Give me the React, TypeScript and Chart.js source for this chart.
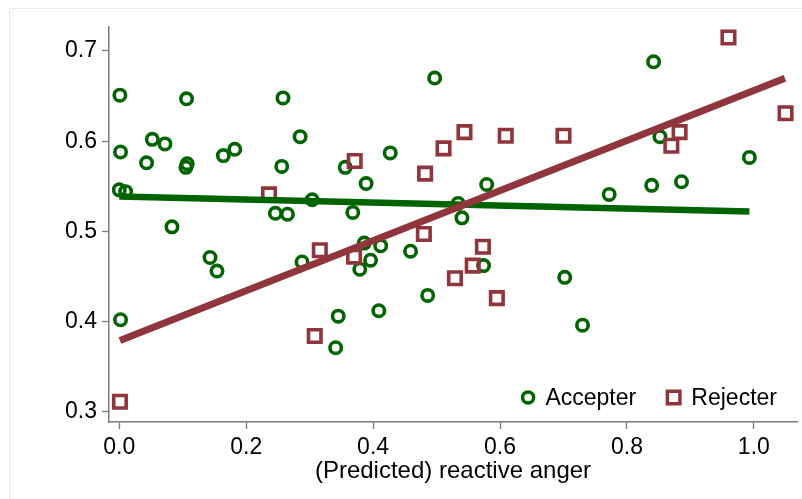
import React, { useEffect, useRef } from "react";
import { Chart, registerables } from "chart.js";

Chart.register(...registerables);

// Accepter (green hollow circles)
const accepterX = [
  0.001, 0.002, 0.0, 0.010, 0.002, 0.043, 0.052, 0.072, 0.083, 0.106,
  0.107, 0.105, 0.143, 0.154, 0.164, 0.182, 0.246, 0.256, 0.258, 0.265,
  0.285, 0.288, 0.304, 0.345, 0.341, 0.356, 0.368, 0.379, 0.386, 0.389,
  0.396, 0.412, 0.409, 0.427, 0.459, 0.486, 0.497, 0.534, 0.540, 0.574,
  0.579, 0.702, 0.730, 0.772, 0.839, 0.842, 0.852, 0.886, 0.993,
];
const accepterY = [
  0.651, 0.588, 0.546, 0.544, 0.402, 0.576, 0.602, 0.597, 0.505, 0.647,
  0.575, 0.571, 0.471, 0.456, 0.584, 0.591, 0.520, 0.572, 0.648, 0.519,
  0.605, 0.466, 0.535, 0.406, 0.371, 0.571, 0.521, 0.458, 0.487, 0.553,
  0.468, 0.484, 0.412, 0.587, 0.478, 0.429, 0.670, 0.531, 0.515, 0.462,
  0.552, 0.449, 0.396, 0.541, 0.551, 0.688, 0.605, 0.555, 0.582,
];

// Rejecter (red hollow squares)
const rejecterX = [
  0.001, 0.236, 0.308, 0.316, 0.370, 0.371, 0.480, 0.482, 0.511, 0.529,
  0.544, 0.557, 0.573, 0.595, 0.609, 0.700, 0.870, 0.883, 0.960, 1.050,
];
const rejecterY = [
  0.311, 0.541, 0.384, 0.479, 0.472, 0.578, 0.497, 0.564, 0.592, 0.448,
  0.610, 0.462, 0.483, 0.426, 0.606, 0.606, 0.595, 0.610, 0.715, 0.631,
];

// Linear fits (endpoints)
const accepterFitX = [0.0, 0.993];
const accepterFitY = [0.5387, 0.522];
const rejecterFitX = [0.001, 1.049];
const rejecterFitY = [0.379, 0.6697];

const xTicks = [0.0, 0.2, 0.4, 0.6, 0.8, 1.0];
const yTicks = [0.3, 0.4, 0.5, 0.6, 0.7];

const seriesLabels = ["Accepter", "Rejecter"];
const xTitle = "(Predicted) reactive anger";

const GREEN = "rgb(0,100,0)";
const RED = "rgb(144,53,59)";
const AXIS = "#7a7a7a";
const FONT = "'Liberation Sans', Arial, sans-serif";

const zip = (xs: number[], ys: number[]) => xs.map((x, i) => ({ x, y: ys[i] }));

export default function App() {
  const ref = useRef<HTMLCanvasElement | null>(null);

  useEffect(() => {
    document.body.style.margin = "0";
    const canvas = ref.current;
    if (!canvas) return;

    const framePlugin = {
      id: "frame",
      beforeDraw(chart: any) {
        const ctx = chart.ctx;
        ctx.save();
        ctx.fillStyle = "#ffffff";
        ctx.fillRect(0, 0, chart.width, chart.height);
        ctx.strokeStyle = "#e8ecee";
        ctx.lineWidth = 1;
        ctx.strokeRect(9.5, 8.5, chart.width + 10, chart.height + 10);
        ctx.restore();
      },
    };

    const legendPlugin = {
      id: "innerLegend",
      afterDraw(chart: any) {
        const ctx = chart.ctx;
        const area = chart.chartArea;
        ctx.save();
        ctx.font = `23px ${FONT}`;
        ctx.textBaseline = "middle";
        ctx.textAlign = "left";
        const cy = area.bottom - 24.5;
        const w1 = ctx.measureText(seriesLabels[0]).width;
        const w2 = ctx.measureText(seriesLabels[1]).width;
        const t2 = area.right - 20 - w2;
        const m2 = t2 - 17.7;
        const t1 = m2 - 37.5 - w1;
        const m1 = t1 - 17.3;
        ctx.strokeStyle = GREEN;
        ctx.lineWidth = 3.5;
        ctx.beginPath();
        ctx.arc(m1, cy, 5.5, 0, Math.PI * 2);
        ctx.stroke();
        ctx.strokeStyle = RED;
        ctx.strokeRect(m2 - 6.25, cy - 6.25, 12.5, 12.5);
        ctx.fillStyle = "#000";
        ctx.fillText(seriesLabels[0], t1, cy + 1);
        ctx.fillText(seriesLabels[1], t2, cy + 1);
        ctx.restore();
      },
    };

    const chart = new Chart(canvas, {
      type: "scatter",
      data: {
        datasets: [
          {
            label: "Rejecter fit",
            data: zip(rejecterFitX, rejecterFitY),
            showLine: true,
            borderColor: RED,
            borderWidth: 7,
            borderCapStyle: "butt",
            pointRadius: 0,
            order: 0,
          },
          {
            label: "Accepter fit",
            data: zip(accepterFitX, accepterFitY),
            showLine: true,
            borderColor: GREEN,
            borderWidth: 6.5,
            borderCapStyle: "butt",
            pointRadius: 0,
            order: 1,
          },
          {
            label: seriesLabels[1],
            data: zip(rejecterX, rejecterY),
            pointStyle: "rect",
            pointRadius: 8.84,
            borderWidth: 3.6,
            borderColor: RED,
            backgroundColor: "transparent",
            order: 2,
          },
          {
            label: seriesLabels[0],
            data: zip(accepterX, accepterY),
            pointStyle: "circle",
            pointRadius: 5.7,
            borderWidth: 3.6,
            borderColor: GREEN,
            backgroundColor: "transparent",
            order: 3,
          },
        ],
      },
      options: {
        responsive: false,
        animation: false,
        events: [],
        layout: { autoPadding: false, padding: { top: 27, right: 5, left: 0, bottom: 0 } },
        plugins: {
          legend: { display: false },
          tooltip: { enabled: false },
        },
        scales: {
          x: {
            type: "linear",
            min: -0.0162,
            max: 1.068,
            afterFit: (s: any) => {
              s.height = 77;
              s.paddingLeft = 0;
              s.paddingRight = 0;
            },
            afterBuildTicks: (s: any) => {
              s.ticks = xTicks.map((v) => ({ value: v }));
            },
            ticks: {
              callback: (v: any) => Number(v).toFixed(1),
              color: "#000",
              font: { family: FONT, size: 23 },
              padding: 5,
              maxRotation: 0,
              autoSkip: false,
            },
            grid: {
              drawOnChartArea: false,
              drawTicks: true,
              tickLength: 7,
              tickColor: AXIS,
              tickWidth: 1.3,
            },
            border: { display: true, color: AXIS, width: 1.5 },
            title: {
              display: true,
              text: xTitle,
              color: "#000",
              font: { family: FONT, size: 24 },
              padding: { top: 0, bottom: 13 },
            },
          },
          y: {
            type: "linear",
            min: 0.2886,
            max: 0.7266,
            afterFit: (s: any) => {
              s.width = 109;
              s.paddingTop = 0;
              s.paddingBottom = 0;
            },
            afterBuildTicks: (s: any) => {
              s.ticks = yTicks.map((v) => ({ value: v }));
            },
            ticks: {
              callback: (v: any) => Number(v).toFixed(1),
              color: "#000",
              font: { family: FONT, size: 23 },
              padding: 5,
              autoSkip: false,
            },
            grid: {
              drawOnChartArea: false,
              drawTicks: true,
              tickLength: 7,
              tickColor: AXIS,
              tickWidth: 1.3,
            },
            border: { display: true, color: AXIS, width: 1.5 },
          },
        },
      },
      plugins: [framePlugin, legendPlugin],
    });

    return () => chart.destroy();
  }, []);

  return (
    <div style={{ width: 802, height: 499 }}>
      <canvas ref={ref} width={802} height={499} style={{ display: "block" }} />
    </div>
  );
}
